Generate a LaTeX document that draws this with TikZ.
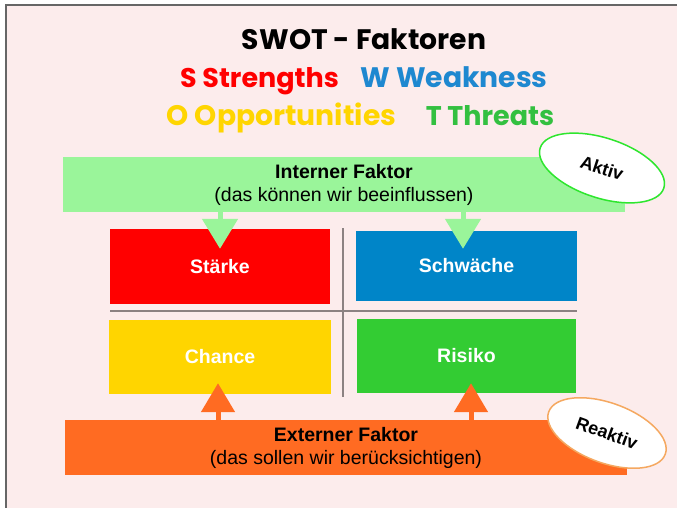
\documentclass[tikz,border=0pt]{standalone}
\usepackage{fontspec}
\setmainfont{Liberation Sans}
\newfontfamily\headfont{Poppins}
\usetikzlibrary{arrows.meta,shapes.geometric}

\definecolor{pagebg}{HTML}{FCECEC}
\definecolor{framegray}{HTML}{666666}
\definecolor{divgray}{HTML}{8C8282}
\definecolor{sred}{HTML}{FF0000}
\definecolor{wblue}{HTML}{0085C8}
\definecolor{oyellow}{HTML}{FFD500}
\definecolor{tgreen}{HTML}{33CC33}
\definecolor{wtext}{HTML}{1E88D0}
\definecolor{ttext}{HTML}{33C040}
\definecolor{intgreen}{HTML}{9AF59A}
\definecolor{extorange}{HTML}{FF6B22}
\definecolor{aktivring}{HTML}{2EE62E}
\definecolor{reaktivring}{HTML}{F5A860}

\tikzset{
  headline/.style={anchor=base, inner sep=0pt, font=\headfont\bfseries\fontsize{27}{30}\selectfont},
  bighead/.style={headline, font=\headfont\bfseries\fontsize{28.2}{30}\selectfont},
  quadbox/.style={rectangle, inner sep=0pt, text=white,
    font=\bfseries\fontsize{19.5}{23}\selectfont},
  banner/.style={rectangle, inner sep=0pt, minimum width=562pt, minimum height=55pt,
    align=center, font=\fontsize{19.5}{23}\selectfont},
  inarrow/.style={draw=intgreen, line width=5pt, -{Triangle[width=35pt,length=30pt]}},
  exarrow/.style={draw=extorange, line width=5pt, -{Triangle[width=33pt,length=29pt]}},
  badge/.style={ellipse, fill=white, line width=1.5pt, inner sep=0pt,
    font=\bfseries\fontsize{18}{20}\selectfont},
  divider/.style={draw=divgray, line width=1.3pt}
}

\begin{document}
\begin{tikzpicture}[x=1pt,y=-1pt]
  % page and frame
  \useasboundingbox (0,0) rectangle (677,508);
  \fill[white] (0,0) rectangle (677,508);
  \fill[pagebg] (6,6) rectangle (677,508);
  \draw[framegray, line width=2pt] (6,508) -- (6,5.5) -- (677,5.5);

  % headings
  \node[bighead] (title) at (364,50) {SWOT - Faktoren};
  \node[headline, text=sred] (hs) at (259.5,88) {S Strengths};
  \node[bighead, text=wtext] (hw) at (454,88) {W Weakness};
  \node[bighead, text=oyellow] (ho) at (281.5,126) {O Opportunities};
  \node[headline, text=ttext] (ht) at (490,126) {T Threats};

  % quadrant dividers
  \draw[divider] (343,228) -- (343,397);
  \draw[divider] (110,311) -- (577,311);

  % SWOT quadrants
  \node[quadbox, fill=sred, minimum width=220pt, minimum height=75pt] (S) at (220,266.5) {Stärke};
  \node[quadbox, fill=wblue, minimum width=221pt, minimum height=70pt] (W) at (466.5,266) {Schwäche};
  \node[quadbox, fill=oyellow, minimum width=222pt, minimum height=74pt] (O) at (220,357) {Chance};
  \node[quadbox, fill=tgreen, minimum width=219pt, minimum height=74pt] (T) at (466.5,356) {Risiko};

  % internal / external factor banners
  \node[banner, fill=intgreen] (In) at (344,184.5)
    {\textbf{Interner Faktor}\\(das können wir beeinflussen)};
  \node[banner, fill=extorange] (Ex) at (346,447.5)
    {\textbf{Externer Faktor}\\(das sollen wir berücksichtigen)};

  % arrows into the quadrants
  \coordinate (stip) at ([yshift=-20pt]S.north);
  \coordinate (wtip) at ([xshift=-3.5pt,yshift=-18pt]W.north);
  \coordinate (otip) at ([xshift=-2pt,yshift=11pt]O.south);
  \coordinate (ttip) at ([xshift=4.5pt,yshift=10pt]T.south);
  \draw[inarrow] ([yshift=2pt]In.south -| stip) -- (stip);
  \draw[inarrow] ([yshift=2pt]In.south -| wtip) -- (wtip);
  \draw[exarrow] ([yshift=-2pt]Ex.north -| otip) -- (otip);
  \draw[exarrow] ([yshift=-2pt]Ex.north -| ttip) -- (ttip);

  % badges
  \node[badge, draw=aktivring, minimum width=130pt, minimum height=60pt, rotate=-18] (aktiv) at (602,168) {Aktiv};
  \node[badge, draw=reaktivring, minimum width=124pt, minimum height=60pt, rotate=-20] (reaktiv) at (607,433) {Reaktiv};
\end{tikzpicture}
\end{document}
